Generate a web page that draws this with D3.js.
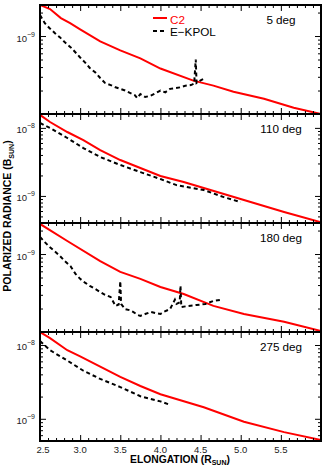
<!DOCTYPE html>
<html><head><meta charset="utf-8">
<script src="https://cdn.jsdelivr.net/npm/d3@7"></script>
<style>body{margin:0;background:#fff}svg{display:block}</style>
</head><body><svg id="c" width="326" height="465"></svg>
<script>
// ---- data ----
const panelLabels = ["5 deg", "110 deg", "180 deg", "275 deg"];
const yDomains = [[1e-10, 2.5e-9], [4e-10, 1.6e-8], [1e-10, 2.5e-9], [5e-10, 1.5e-8]];
const xTickLabels = [2.5, 3.0, 3.5, 4.0, 4.5, 5.0, 5.5];
const legendLabels = ["C2", "E\u2212KPOL"];

// 5 deg
const c2Elong1 = [2.5, 2.625, 2.76, 2.875, 3.0, 3.25, 3.5, 3.75, 4.0, 4.41, 4.66, 4.91, 5.29, 5.66, 6.0];
const c2Pb1 = [2.5e-9, 2.22e-9, 1.70e-9, 1.46e-9, 1.22e-9, 8.55e-10, 6.54e-10, 5.16e-10, 3.83e-10, 2.68e-10, 2.31e-10, 1.93e-10, 1.57e-10, 1.20e-10, 1.0e-10];
const kpolElong1 = [2.50, 2.56, 2.62, 2.69, 2.75, 2.81, 2.88, 2.94, 3.00, 3.06, 3.12, 3.19, 3.25, 3.31, 3.38, 3.44, 3.50, 3.56, 3.62, 3.68, 3.71, 3.75, 3.81, 3.88, 3.94, 4.00, 4.06, 4.12, 4.19, 4.25, 4.31, 4.38, 4.42, 4.44, 4.45, 4.50, 4.56];
const kpolPb1 = [1.86e-9, 1.46e-9, 1.26e-9, 1.08e-9, 9.6e-10, 8.3e-10, 7.2e-10, 6.2e-10, 5.3e-10, 4.6e-10, 3.9e-10, 3.4e-10, 2.9e-10, 2.5e-10, 2.35e-10, 2.2e-10, 2.1e-10, 2.0e-10, 1.87e-10, 1.75e-10, 1.6e-10, 1.8e-10, 1.65e-10, 1.72e-10, 1.85e-10, 2.0e-10, 1.9e-10, 2.1e-10, 2.15e-10, 2.2e-10, 2.3e-10, 2.35e-10, 2.45e-10, 5.0e-10, 2.5e-10, 2.7e-10, 2.9e-10];

// 110 deg
const c2Elong2 = [2.5, 2.625, 2.84, 3.04, 3.25, 3.5, 3.75, 4.0, 4.29, 4.54, 5.04, 5.54, 6.0];
const c2Pb2 = [1.55e-8, 1.22e-8, 8.7e-9, 6.6e-9, 4.7e-9, 3.37e-9, 2.57e-9, 1.96e-9, 1.6e-9, 1.31e-9, 8.7e-10, 5.8e-10, 4.1e-10];
const kpolElong2 = [2.5, 2.625, 2.84, 3.04, 3.25, 3.5, 3.75, 4.0, 4.2, 4.54, 4.79, 5.0];
const kpolPb2 = [1.18e-8, 9.96e-9, 7.1e-9, 5.06e-9, 3.73e-9, 2.85e-9, 2.24e-9, 1.77e-9, 1.44e-9, 1.22e-9, 9.6e-10, 8.1e-10];

// 180 deg
const c2Elong3 = [2.5, 2.84, 3.25, 3.5, 3.75, 4.0, 4.29, 4.66, 5.04, 5.54, 6.0];
const c2Pb3 = [2.43e-9, 1.47e-9, 8.1e-10, 5.9e-10, 4.8e-10, 3.78e-10, 3.07e-10, 2.16e-10, 1.70e-10, 1.35e-10, 1.03e-10];
const kpolElong3 = [2.50, 2.56, 2.62, 2.69, 2.75, 2.81, 2.88, 2.94, 3.00, 3.06, 3.12, 3.19, 3.25, 3.31, 3.38, 3.44, 3.48, 3.50, 3.51, 3.56, 3.62, 3.66, 3.72, 3.75, 3.81, 3.88, 3.94, 4.00, 4.04, 4.12, 4.18, 4.20, 4.24, 4.25, 4.26, 4.35, 4.45, 4.56, 4.66, 4.75];
const kpolPb3 = [1.66e-9, 1.42e-9, 1.23e-9, 1.07e-9, 9.4e-10, 8.1e-10, 7.0e-10, 5.6e-10, 4.8e-10, 4.3e-10, 3.9e-10, 3.55e-10, 3.26e-10, 3.0e-10, 2.81e-10, 2.16e-10, 2.25e-10, 4.5e-10, 2.29e-10, 1.97e-10, 1.9e-10, 1.81e-10, 1.65e-10, 1.61e-10, 1.70e-10, 1.81e-10, 1.75e-10, 1.70e-10, 1.81e-10, 1.97e-10, 2.6e-10, 2.29e-10, 2.4e-10, 3.9e-10, 2.09e-10, 2.16e-10, 2.22e-10, 2.29e-10, 2.5e-10, 2.58e-10];

// 275 deg
const c2Elong4 = [2.5, 2.625, 2.84, 3.0, 3.25, 3.5, 3.75, 4.0, 4.54, 5.04, 5.54, 6.0];
const c2Pb4 = [1.5e-8, 1.24e-8, 8.5e-9, 7.0e-9, 5.1e-9, 3.7e-9, 2.78e-9, 2.15e-9, 1.43e-9, 9.1e-10, 6.6e-10, 5.15e-10];
const kpolElong4 = [2.5, 2.625, 2.84, 3.04, 3.25, 3.5, 3.75, 4.0, 4.1];
const kpolPb4 = [1.13e-8, 8.5e-9, 6.15e-9, 4.48e-9, 3.47e-9, 2.69e-9, 2.02e-9, 1.72e-9, 1.57e-9];

const c2Series = [[c2Elong1, c2Pb1], [c2Elong2, c2Pb2], [c2Elong3, c2Pb3], [c2Elong4, c2Pb4]];
const kpolSeries = [[kpolElong1, kpolPb1], [kpolElong2, kpolPb2], [kpolElong3, kpolPb3], [kpolElong4, kpolPb4]];

// ---- layout ----
const L = 40, R = 321, T = 5, H = 109;
const FONT = "'Liberation Sans', Arial, Helvetica, sans-serif";
const svg = d3.select("#c");
const x = d3.scaleLinear().domain([2.5, 6.0]).range([L, R]);
const xMajor = d3.range(25, 61, 5).map(v => v / 10);
const xMinor = d3.range(25, 61, 1).map(v => v / 10).filter(v => !xMajor.some(m => Math.abs(m - v) < 1e-9));
const zip = (a, b) => a.map((v, i) => [v, b[i]]);

panelLabels.forEach((lab, i) => {
  const top = T + i * H, bot = T + (i + 1) * H;
  const y = d3.scaleLog().domain(yDomains[i]).range([bot, top]);
  const g = svg.append("g");
  const cid = "clip" + i;
  svg.append("clipPath").attr("id", cid).append("rect")
    .attr("x", L).attr("y", top).attr("width", R - L).attr("height", H);

  const line = d3.line().x(d => x(d[0])).y(d => y(d[1]));
  g.append("path").datum(zip(...c2Series[i])).attr("d", line)
    .attr("fill", "none").attr("stroke", "#ff0000").attr("stroke-width", 2)
    .attr("clip-path", `url(#${cid})`);
  g.append("path").datum(zip(...kpolSeries[i])).attr("d", line)
    .attr("fill", "none").attr("stroke", "#000").attr("stroke-width", 2)
    .attr("stroke-dasharray", "4,3").attr("clip-path", `url(#${cid})`);

  // x ticks (top & bottom, inward)
  const mk = (axisFn, vals, size, yy) => {
    const a = g.append("g").attr("transform", `translate(0,${yy})`)
      .call(axisFn(x).tickValues(vals).tickSize(size).tickFormat(""));
    a.select(".domain").remove();
    a.selectAll("line").attr("stroke", "#000").attr("stroke-width", 1);
  };
  mk(d3.axisBottom, xMajor, -6, bot);
  mk(d3.axisBottom, xMinor, -3, bot);
  mk(d3.axisTop, xMajor, -6, top);
  mk(d3.axisTop, xMinor, -3, top);

  // y ticks
  const [d0, d1] = yDomains[i];
  const all = y.ticks(20).filter(v => v >= d0 * 0.999 && v <= d1 * 1.001);
  const isMajor = v => Math.abs(Math.log10(v) - Math.round(Math.log10(v))) < 1e-6;
  const yMaj = all.filter(isMajor), yMin = all.filter(v => !isMajor(v));
  const mky = (axisFn, vals, size, xx) => {
    const a = g.append("g").attr("transform", `translate(${xx},0)`)
      .call(axisFn(y).tickValues(vals).tickSize(size).tickFormat(""));
    a.select(".domain").remove();
    a.selectAll("line").attr("stroke", "#000").attr("stroke-width", 1);
  };
  mky(d3.axisLeft, yMaj, -6, L);
  mky(d3.axisLeft, yMin, -3, L);
  mky(d3.axisRight, yMaj, -6, R);
  mky(d3.axisRight, yMin, -3, R);

  // y labels 10^n (only strictly inside the panel)
  yMaj.filter(v => v > d0 * 1.01 && v < d1 * 0.99).forEach(v => {
    const e = Math.round(Math.log10(v));
    const t = g.append("text").attr("x", 35).attr("y", y(v) + 5.5)
      .attr("text-anchor", "end").attr("font-family", FONT).attr("font-size", 9.5).attr("fill", "#222");
    t.append("tspan").text("10");
    t.append("tspan").attr("font-size", 7).attr("dy", -5).text(String(e).replace("-", "\u2212"));
  });

  // frame
  g.append("rect").attr("x", L).attr("y", top).attr("width", R - L).attr("height", H)
    .attr("fill", "none").attr("stroke", "#000").attr("stroke-width", 2);

  // panel label
  g.append("text").attr("x", 281).attr("y", top + 19).attr("text-anchor", "middle")
    .attr("font-family", FONT).attr("font-size", 11.7).attr("fill", "#000").text(lab);

  if (i === 0) {
    g.append("line").attr("x1", 153).attr("x2", 167).attr("y1", 18).attr("y2", 18)
      .attr("stroke", "#ff0000").attr("stroke-width", 2);
    g.append("text").attr("x", 170).attr("y", 24).attr("font-family", FONT)
      .attr("font-size", 11.7).attr("fill", "#ff0000").text(legendLabels[0]);
    g.append("line").attr("x1", 153).attr("x2", 167).attr("y1", 31).attr("y2", 31)
      .attr("stroke", "#000").attr("stroke-width", 2).attr("stroke-dasharray", "4,3");
    g.append("text").attr("x", 170).attr("y", 36).attr("font-family", FONT)
      .attr("font-size", 11.7).attr("fill", "#000").text(legendLabels[1]);
  }
});

// x tick labels
svg.append("g").selectAll("text").data(xTickLabels).join("text")
  .attr("x", d => x(d) + (d === 2.5 ? 3 : 0)).attr("y", 452.5).attr("text-anchor", "middle")
  .attr("font-family", FONT).attr("font-size", 9.5).attr("fill", "#222")
  .text(d => d.toFixed(1));

// x axis title
const xt = svg.append("text").attr("x", 180).attr("y", 462.5).attr("text-anchor", "middle")
  .attr("font-family", FONT).attr("font-size", 10.3).attr("font-weight", "bold").attr("fill", "#000");
xt.append("tspan").text("ELONGATION (R");
xt.append("tspan").attr("font-size", 7).attr("dy", 2).text("SUN");
xt.append("tspan").attr("dy", -2).text(")");

// y axis title
const yt = svg.append("text").attr("transform", "translate(11,216) rotate(-90)").attr("text-anchor", "middle")
  .attr("font-family", FONT).attr("font-size", 10.5).attr("font-weight", "bold").attr("fill", "#000");
yt.append("tspan").text("POLARIZED RADIANCE (B");
yt.append("tspan").attr("font-size", 7).attr("dy", 2.5).text("SUN");
yt.append("tspan").attr("dy", -2.5).text(")");
</script></body></html>
